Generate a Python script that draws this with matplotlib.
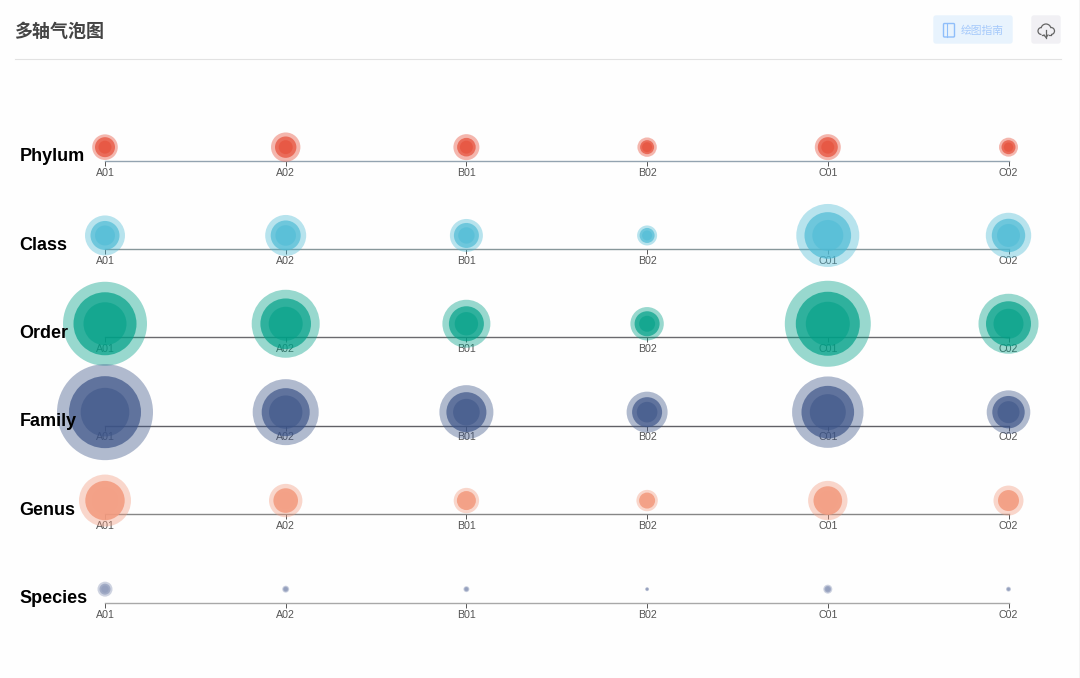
"""
Multi axis bubble chart
"""
import matplotlib
matplotlib.use("Agg")
import matplotlib.pyplot as plt
from matplotlib.patches import Arc, FancyBboxPatch, Rectangle

W, H, DPI = 1080, 678, 100

samples = ["A01", "A02", "B01", "B02", "C01", "C02"]
ranks = ["Phylum", "Class", "Order", "Family", "Genus", "Species"]
colors = ["#E64B35", "#4DBBD5", "#00A087", "#3C5488", "#F39B7F", "#8491B4"]
line_colors = ["#93a3b0", "#87979a", "#6a6a6e", "#606066", "#868686", "#a8a8a8"]

# bubble radii, three nested rings per sample
phylum_outer = [12.8, 14.7, 13, 9.7, 13, 9.5]
phylum_mid = [10, 10.7, 9.3, 7, 10, 7]
phylum_inner = [6.5, 7, 6.5, 5, 6.5, 4.7]
class_outer = [20, 20.5, 16.5, 10, 31.5, 22.7]
class_mid = [14.5, 15, 12.5, 7.5, 23.3, 16.7]
class_inner = [10, 10.3, 8.2, 5, 15.5, 11.5]
order_outer = [42, 34, 24, 16.7, 43, 30]
order_mid = [31.5, 25.3, 17.5, 12.5, 32, 22.5]
order_inner = [21.5, 17, 11.7, 8, 22, 15]
family_outer = [48, 33, 27, 20.5, 35.7, 21.8]
family_mid = [36, 24, 20, 15, 26.3, 16.2]
family_inner = [24.3, 16.7, 13.3, 10.3, 18, 11]
genus_outer = [26, 16.7, 12.7, 10.7, 19.7, 15]
genus_mid = [19.7, 12.3, 9.5, 8, 14.3, 10.5]
genus_inner = [13, 8.3, 6.3, 5.3, 9.5, 7]
species_outer = [7.5, 3.5, 3, 2, 4.5, 2.5]
species_mid = [5.5, 2.6, 2.2, 1.5, 3.3, 1.8]
species_inner = [3.7, 1.8, 1.5, 1, 2.2, 1.2]

outer = [phylum_outer, class_outer, order_outer, family_outer, genus_outer, species_outer]
mid = [phylum_mid, class_mid, order_mid, family_mid, genus_mid, species_mid]
inner = [phylum_inner, class_inner, order_inner, family_inner, genus_inner, species_inner]

line_y = [160.6, 248.9, 337.2, 425.6, 514, 602.6]
mid_alpha = [0.69, 0.69, 0.69, 0.69, 0.88, 0.6]
inner_alpha = [0.55, 0.55, 0.55, 0.55, 0.1, 0.4]

plt.rcParams["font.family"] = ["Liberation Sans", "DejaVu Sans"]
cjk = ["Noto Sans CJK SC", "DejaVu Sans"]


def px(v):
    return v * 72 / DPI


def area(radii):
    return [(2 * px(r)) ** 2 for r in radii]


fig = plt.figure(figsize=(W / DPI, H / DPI), dpi=DPI, facecolor="#fefefe")

# one axis per taxonomic rank
for i, rank in enumerate(ranks):
    ax = fig.add_axes([105 / W, 1 - line_y[i] / H, (1008.5 - 105) / W, 28 / H])
    ax.patch.set_visible(False)
    ax.set_xlim(0, 5)
    ax.set_ylim(0, 1)
    for side in ["top", "left", "right"]:
        ax.spines[side].set_visible(False)
    ax.spines["bottom"].set_color(line_colors[i])
    ax.spines["bottom"].set_linewidth(1.0)
    ax.set_axisbelow(True)
    ax.set_yticks([])
    ax.set_xticks(range(len(samples)), samples)
    ax.tick_params(axis="x", length=px(4.5), width=0.7, color="#555555", pad=px(2.4),
                   labelsize=px(10.6), labelcolor="#555555")
    xs = list(range(len(samples)))
    ys = [0.48] * len(samples)
    ax.scatter(xs, ys, s=area(outer[i]), color=colors[i], alpha=0.4, lw=0, clip_on=False, zorder=3)
    ax.scatter(xs, ys, s=area(mid[i]), color=colors[i], alpha=mid_alpha[i], lw=0, clip_on=False, zorder=3)
    ax.scatter(xs, ys, s=area(inner[i]), color=colors[i], alpha=inner_alpha[i], lw=0, clip_on=False, zorder=3)
    fig.text(19.5 / W, 1 - (line_y[i] + 0.8) / H, rank, fontsize=px(18), fontweight="bold",
             color="#000000", va="baseline", ha="left", zorder=5)

# page header
top = fig.add_axes([0, 0, 1, 1], zorder=-1)
top.set_xlim(0, W)
top.set_ylim(H, 0)
top.axis("off")
top.plot([15, 1061], [59, 59], color="#e2e2e2", lw=0.8)
top.add_patch(Rectangle((1078.5, 0), 1.5, H, color="#f3f3f3", lw=0))
top.add_patch(FancyBboxPatch((934, 16), 78, 27, boxstyle="round,pad=0,rounding_size=2",
                             fc="#e8f3fd", ec="#e8f3fd", lw=1))
top.add_patch(FancyBboxPatch((943.5, 23.5), 11, 13.5, boxstyle="round,pad=0,rounding_size=1",
                             fc="none", ec="#8fbefa", lw=1))
top.plot([947, 947], [23.5, 37], color="#8fbefa", lw=0.8)
top.add_patch(FancyBboxPatch((1032, 16), 28, 27, boxstyle="round,pad=0,rounding_size=2",
                             fc="#f1f0f4", ec="#f1f0f4", lw=1))
# cloud download icon
for center, d, t1, t2 in [((1041.5, 31), 7, 90, 270), ((1046, 29), 10, 190, 350),
                          ((1051, 31), 7, 270, 90)]:
    top.add_patch(Arc(center, d, d, theta1=t1, theta2=t2, color="#666666", lw=0.9))
top.plot([1041.5, 1044], [34.5, 34.5], color="#666666", lw=0.9)
top.plot([1048.5, 1051], [34.5, 34.5], color="#666666", lw=0.9)
top.plot([1046, 1046], [30, 37.5], color="#666666", lw=0.9)
top.plot([1044, 1046, 1048], [35, 37.5, 35], color="#666666", lw=0.9)

fig.text(14.5 / W, 1 - 32 / H, "多轴气泡图", fontsize=px(18), fontweight="bold", color="#444444",
         family=cjk, va="center", ha="left")
fig.text(961 / W, 1 - 31 / H, "绘图指南", fontsize=px(10.8), color="#a5c9fb",
         family=cjk, va="center", ha="left")

fig.savefig("out.png", dpi=DPI, facecolor=fig.get_facecolor())
